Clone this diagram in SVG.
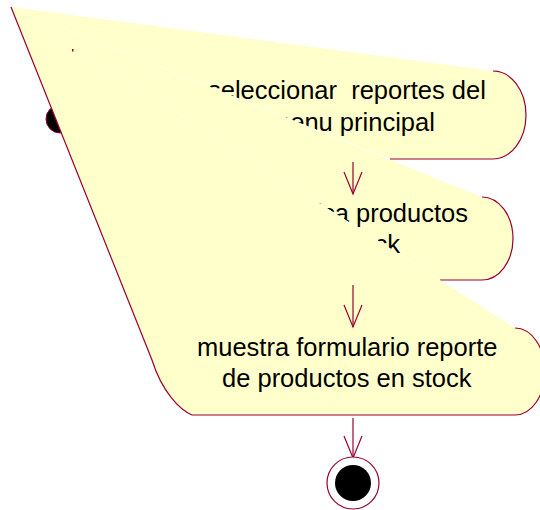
<svg xmlns="http://www.w3.org/2000/svg" xmlns:xlink="http://www.w3.org/1999/xlink" width="540" height="510" viewBox="0 0 540 510">
<style>
.fill{fill:#FFFFCC;stroke:none}
.edge{fill:none;stroke:#990033;stroke-width:1.2}
.lbl{font-family:"Liberation Sans",Arial,sans-serif;font-size:25.5px;fill:#000;white-space:pre}
.conn{stroke:#990033;stroke-width:1.2;fill:none}
</style>
<defs>
<path id="s1" d="M11,7 L493,71 A33,44 0 0 1 493,159 L390,159 Z"/>
<path id="s2" d="M11,7 L482,197 A31,41.5 0 0 1 482,280 L440,280 Z"/>
<path id="s3" d="M11,7 L515,328 A30,43.5 0 0 1 515,415 L192,415 C180,410 162,392 152,360 Z"/>
<clipPath id="c1"><use xlink:href="#s1"/></clipPath>
<clipPath id="c2"><use xlink:href="#s2"/></clipPath>
<clipPath id="c3"><use xlink:href="#s3"/></clipPath>
<marker id="arr" markerUnits="userSpaceOnUse" markerWidth="30" markerHeight="24" viewBox="-24 -12 30 24" refX="0" refY="0" orient="auto">
<path d="M-22,-9 L0,0 L-22,9" fill="none" stroke="#990033" stroke-width="1.2"/>
</marker>
</defs>
<g id="start">
<circle cx="60" cy="119" r="14" fill="#000" stroke="#990033" stroke-width="1"/>
</g>
<g id="act1">
<use xlink:href="#s1" class="fill"/>
<path class="edge" d="M493,71 A33,44 0 0 1 493,159 L390,159"/>
<g clip-path="url(#c1)">
<text class="lbl" x="208" y="99">seleccionar  reportes del</text>
<text class="lbl" x="269" y="131">menu principal</text>
</g>
</g>
<g id="act2">
<use xlink:href="#s2" class="fill"/>
<path class="edge" d="M482,197 A31,41.5 0 0 1 482,280 L440,280"/>
<g clip-path="url(#c2)">
<text class="lbl" x="468" y="222" text-anchor="end">se verifica productos</text>
<text class="lbl" x="400" y="253" text-anchor="end">en stock</text>
</g>
</g>
<g id="act3">
<use xlink:href="#s3" class="fill"/>
<path class="edge" d="M515,328 A30,43.5 0 0 1 515,415 L192,415 C180,410 162,392 152,360 L11,7"/>
<g clip-path="url(#c3)">
<text class="lbl" x="197" y="356">muestra formulario reporte</text>
<text class="lbl" x="222" y="387">de productos en stock</text>
</g>
</g>
<rect x="72" y="49" width="1.5" height="2.5" fill="#990033"/>
<g id="connectors">
<line class="conn" x1="353" y1="162" x2="353" y2="194" marker-end="url(#arr)"/>
<line class="conn" x1="353" y1="285" x2="353" y2="327" marker-end="url(#arr)"/>
<line class="conn" x1="353" y1="418" x2="353" y2="458" marker-end="url(#arr)"/>
</g>
<g id="end">
<circle cx="353" cy="483" r="26" fill="#fff" stroke="#990033" stroke-width="1.2"/>
<circle cx="353" cy="483" r="18" fill="#000"/>
</g>
</svg>
